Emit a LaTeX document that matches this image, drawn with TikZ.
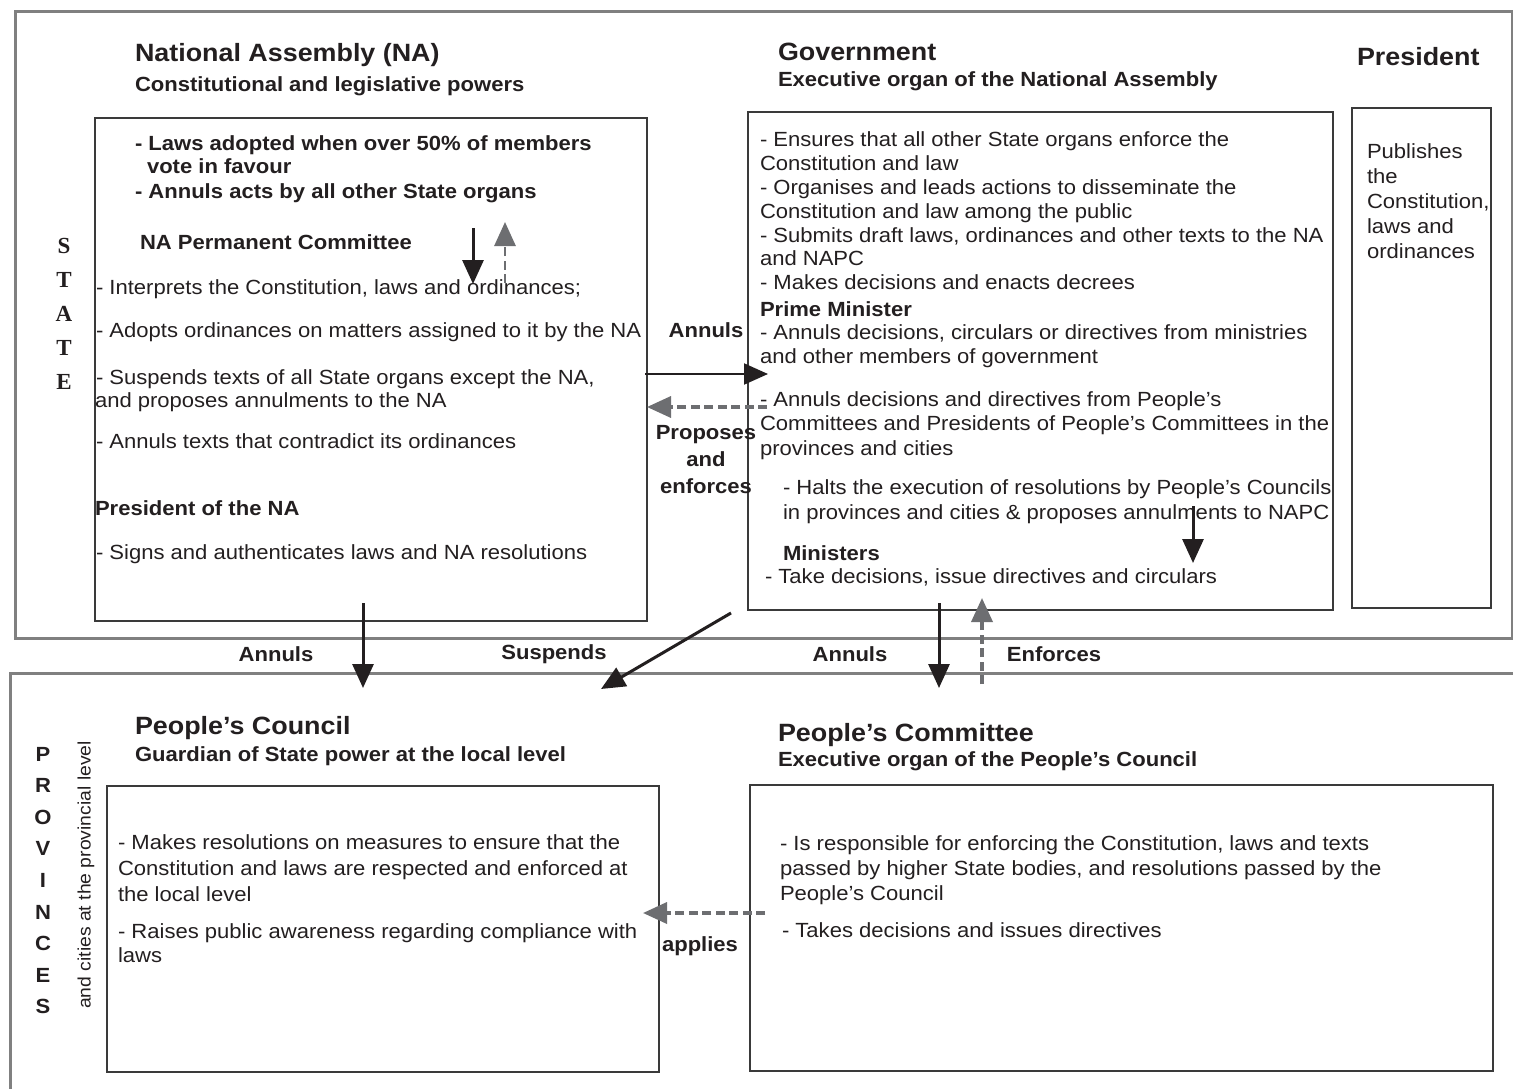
\documentclass[tikz,border=0pt]{standalone}
\usepackage{fontspec}
\setmainfont{Liberation Sans}[FakeStretch=1.075]
\newfontfamily\serifb{Liberation Serif}
\usetikzlibrary{arrows.meta}
\definecolor{tc}{HTML}{231F20}
\definecolor{fc}{HTML}{808080}
\definecolor{bc}{HTML}{3A3A3A}
\definecolor{dc}{HTML}{6D6E71}
\newcommand\bodyf{\fontsize{20.5}{24}\selectfont}
\newcommand\ttlf{\fontsize{25}{30}\selectfont}
\tikzset{
  txt/.style={anchor=base west, inner sep=0pt, outer sep=0pt, text=tc, font=\bodyf},
  btxt/.style={txt, font=\bodyf\bfseries},
  ttl/.style={txt, font=\ttlf\bfseries},
  lbl/.style={anchor=base, inner sep=0pt, outer sep=0pt, text=tc, font=\bodyf\bfseries},
  boxx/.style={draw=bc, line width=1.2pt, anchor=north west, inner sep=0pt, outer sep=0pt},
  frame/.style={draw=fc, line width=3pt},
  solidarr/.style={draw=tc, line width=3pt, -{Triangle[length=24pt,width=21pt]}},
  dasharr/.style={draw=dc, line width=3.5pt, dash pattern=on 9pt off 4.5pt, -{Triangle[length=24pt,width=21pt]}},
  stl/.style={anchor=center, inner sep=0pt, text=tc, font=\serifb\bfseries\fontsize{23}{23}\selectfont},
  prl/.style={anchor=center, inner sep=0pt, text=tc, font=\bfseries\fontsize{20.5}{20.5}\selectfont}
}
\begin{document}
\begin{tikzpicture}[x=1pt,y=-1pt]
\useasboundingbox (0,0) rectangle (1513,1089);
\fill[white] (0,0) rectangle (1513,1089);

% frames
\draw[frame] (15,12) rectangle (1512,638);
\draw[frame] (1513,673) -- (10,673) -- (10,1089);

% STATE
\node[stl] (s1) at (64,246) {S};
\node[stl] (s2) at (64,280) {T};
\node[stl] (s3) at (64,314) {A};
\node[stl] (s4) at (64,348) {T};
\node[stl] (s5) at (64,382) {E};

% National Assembly
\node[ttl] (natitle) at (135,62) {National Assembly (NA)};
\node[btxt] (nasub) at (135,92) {Constitutional and legislative powers};
\node[boxx, minimum width=552pt, minimum height=503pt] (nabox) at (95,118) {};
\node[btxt] (na1) at (135,150) {- Laws adopted when over 50\% of members};
\node[btxt] (na2) at (147,174) {vote in favour};
\node[btxt] (na3) at (135,198) {- Annuls acts by all other State organs};
\node[btxt] (na4) at (140,249) {NA Permanent Committee};
\node[txt] (na5) at (96,294) {- Interprets the Constitution, laws and ordinances;};
\node[txt] (na6) at (96,337) {- Adopts ordinances on matters assigned to it by the NA};
\node[txt] (na7) at (96,384) {- Suspends texts of all State organs except the NA,};
\node[txt] (na8) at (95,407) {and proposes annulments to the NA};
\node[txt] (na9) at (96,448) {- Annuls texts that contradict its ordinances};
\node[btxt] (na10) at (95,515) {President of the NA};
\node[txt] (na11) at (96,559) {- Signs and authenticates laws and NA resolutions};

\coordinate (a1s) at (473,228);
\coordinate (a1e) at (473,284);
\draw[solidarr] (a1s) -- (a1e);
\coordinate (a2s) at (505,283);
\coordinate (a2e) at (505,222);
\draw[dasharr, line width=2.8pt] (a2s) -- (a2e);

% Government
\node[ttl] (gtitle) at (778,61) {Government};
\node[btxt] (gsub) at (778,87) {Executive organ of the National Assembly};
\node[boxx, minimum width=585pt, minimum height=498pt] (gbox) at (748,112) {};
\node[txt] (g1) at (760,147) {- Ensures that all other State organs enforce the};
\node[txt] (g2) at (760,171) {Constitution and law};
\node[txt] (g3) at (760,194) {- Organises and leads actions to disseminate the};
\node[txt] (g4) at (760,218) {Constitution and law among the public};
\node[txt] (g5) at (760,242) {- Submits draft laws, ordinances and other texts to the NA};
\node[txt] (g6) at (760,265) {and NAPC};
\node[txt] (g7) at (760,289) {- Makes decisions and enacts decrees};
\node[btxt] (g8) at (760,316) {Prime Minister};
\node[txt] (g9) at (760,339) {- Annuls decisions, circulars or directives from ministries};
\node[txt] (g10) at (760,363) {and other members of government};
\node[txt] (g11) at (760,406) {- Annuls decisions and directives from People’s};
\node[txt] (g12) at (760,430) {Committees and Presidents of People’s Committees in the};
\node[txt] (g13) at (760,455) {provinces and cities};
\node[txt] (g14) at (783,494) {- Halts the execution of resolutions by People’s Councils};
\node[txt] (g15) at (783,519) {in provinces and cities \& proposes annulments to NAPC};
\node[btxt] (g16) at (783,560) {Ministers};
\node[txt] (g17) at (765,583) {- Take decisions, issue directives and circulars};

\coordinate (a3s) at (1193,506);
\coordinate (a3e) at (1193,563);
\draw[solidarr] (a3s) -- (a3e);

% President
\node[ttl] (ptitle) at (1357,66) {President};
\node[boxx, minimum width=139pt, minimum height=500pt] (pbox) at (1352,108) {};
\node[txt] (p1) at (1367,158) {Publishes};
\node[txt] (p2) at (1367,183) {the};
\node[txt] (p3) at (1367,208) {Constitution,};
\node[txt] (p4) at (1367,233) {laws and};
\node[txt] (p5) at (1367,258) {ordinances};

% middle arrows
\coordinate (m1s) at (645,374);
\coordinate (m1e) at (768,374);
\draw[solidarr, line width=2pt] (m1s) -- (m1e);
\coordinate (m2s) at (767,407);
\coordinate (m2e) at (647,407);
\draw[dasharr] (m2s) -- (m2e);
\node[lbl] (l1) at (706,337) {Annuls};
\node[lbl] (l2) at (706,439) {Proposes};
\node[lbl] (l3) at (706,466) {and};
\node[lbl] (l4) at (706,493) {enforces};

% between frames
\coordinate (b1s) at (363,603);
\coordinate (b1e) at (363,688);
\draw[solidarr] (b1s) -- (b1e);
\node[lbl] (l5) at (276,661) {Annuls};
\coordinate (b2s) at (731,613);
\coordinate (b2e) at (601,689);
\draw[solidarr] (b2s) -- (b2e);
\node[lbl] (l6) at (554,659) {Suspends};
\coordinate (b3s) at (939,603);
\coordinate (b3e) at (939,688);
\draw[solidarr] (b3s) -- (b3e);
\node[lbl] (l7) at (850,661) {Annuls};
\coordinate (b4s) at (982,684);
\coordinate (b4e) at (982,598);
\draw[dasharr] (b4s) -- (b4e);
\node[lbl] (l8) at (1054,661) {Enforces};

% PROVINCES
\foreach \c [count=\i from 0] in {P,R,O,V,I,N,C,E,S}{
  \node[prl] (pv\i) at (43,754+31.6*\i) {\c};
}
\node[anchor=center, inner sep=0pt, text=tc, rotate=90, font=\fontsize{18}{18}\selectfont] (pvsub) at (86,875) {and cities at the provincial level};

% People's Council
\node[ttl] (pctitle) at (135,734) {People’s Council};
\node[btxt] (pcsub) at (135,761) {Guardian of State power at the local level};
\node[boxx, minimum width=552pt, minimum height=286pt] (pcbox) at (107,786) {};
\node[txt] (pc1) at (118,849) {- Makes resolutions on measures to ensure that the};
\node[txt] (pc2) at (118,875) {Constitution and laws are respected and enforced at};
\node[txt] (pc3) at (118,901) {the local level};
\node[txt] (pc4) at (118,938) {- Raises public awareness regarding compliance with};
\node[txt] (pc5) at (118,962) {laws};

% People's Committee
\node[ttl] (pmtitle) at (778,741) {People’s Committee};
\node[btxt] (pmsub) at (778,766) {Executive organ of the People’s Council};
\node[boxx, minimum width=743pt, minimum height=286pt] (pmbox) at (750,785) {};
\node[txt] (pm1) at (780,850) {- Is responsible for enforcing the Constitution, laws and texts};
\node[txt] (pm2) at (780,875) {passed by higher State bodies, and resolutions passed by the};
\node[txt] (pm3) at (780,900) {People’s Council};
\node[txt] (pm4) at (782,937) {- Takes decisions and issues directives};

\coordinate (c1s) at (765,913);
\coordinate (c1e) at (643,913);
\draw[dasharr] (c1s) -- (c1e);
\node[lbl] (l9) at (700,951) {applies};
\end{tikzpicture}
\end{document}
